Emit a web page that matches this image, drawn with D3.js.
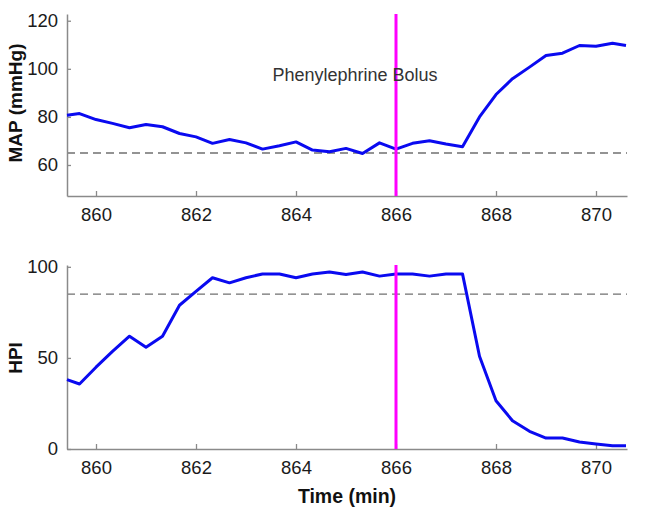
<!DOCTYPE html>
<html>
<head>
<meta charset="utf-8">
<script src="https://cdn.jsdelivr.net/npm/d3@7"></script>
<style>
  html, body { margin: 0; padding: 0; background: #fff; }
  svg { display: block; font-family: "Liberation Sans", Arial, sans-serif; }
</style>
</head>
<body>
<svg id="chart" width="646" height="512"></svg>
<script>
// ---- data ----
const times = [859.42, 859.67, 860.0, 860.33, 860.67, 861.0, 861.33, 861.67, 862.0, 862.33,
               862.67, 863.0, 863.33, 863.67, 864.0, 864.33, 864.67, 865.0, 865.33, 865.67,
               866.0, 866.33, 866.67, 867.0, 867.33, 867.67, 868.0, 868.33, 868.67, 869.0,
               869.33, 869.67, 870.0, 870.33, 870.6];
const mapValues = [80.7, 81.4, 78.9, 77.3, 75.5, 76.8, 75.9, 73.1, 71.7, 69.0,
                   70.6, 69.2, 66.6, 68.0, 69.6, 66.2, 65.5, 66.9, 64.8, 69.2,
                   66.6, 69.0, 70.1, 68.7, 67.6, 80.0, 89.3, 95.9, 100.7, 105.5,
                   106.5, 109.7, 109.4, 110.6, 109.7];
const hpiValues = [38.1, 35.7, 44.9, 53.6, 61.9, 55.8, 61.9, 78.9, 86.5, 94.0,
                   91.2, 94.0, 96.1, 96.1, 94.0, 96.1, 97.2, 95.8, 97.2, 94.9,
                   96.1, 96.1, 94.9, 96.1, 96.1, 50.9, 26.5, 15.5, 9.7, 6.0,
                   6.0, 3.8, 2.7, 1.8, 1.8];
const xTicks = [860, 862, 864, 866, 868, 870];
const mapTicks = [60, 80, 100, 120];
const hpiTicks = [0, 50, 100];
const mapThreshold = 65;
const hpiThreshold = 85;
const bolusTime = 866;
const bolusLabel = "Phenylephrine Bolus";
const xLabel = "Time (min)";
const mapLabel = "MAP (mmHg)";
const hpiLabel = "HPI";

// ---- drawing ----
const svg = d3.select("#chart");
const axisColor = "#8a8a8a";
const x = d3.scaleLinear().domain([859.42, 870.62]).range([67, 627]);

function panel(opts) {
  const { y, values, ticks, threshold, label, labelY } = opts;
  const g = svg.append("g");
  const [y0, y1] = y.range();

  g.append("line")
    .attr("x1", x.range()[0]).attr("x2", x.range()[1])
    .attr("y1", y(threshold)).attr("y2", y(threshold))
    .attr("stroke", "#707070").attr("stroke-width", 1.4)
    .attr("stroke-dasharray", "8,5");

  const xa = g.append("g").attr("transform", `translate(0,${y0})`)
    .call(d3.axisBottom(x).tickValues(xTicks).tickFormat(d3.format("d"))
      .tickSizeInner(-5).tickSizeOuter(0).tickPadding(12));
  const ya = g.append("g").attr("transform", `translate(${x.range()[0]},0)`)
    .call(d3.axisLeft(y).tickValues(ticks).tickFormat(d3.format("d"))
      .tickSizeInner(-4).tickSizeOuter(0).tickPadding(9));
  [xa, ya].forEach(a => {
    a.select(".domain").attr("stroke", axisColor).attr("stroke-width", 1.5);
    a.selectAll(".tick line").attr("stroke", axisColor).attr("stroke-width", 1.3);
    a.selectAll(".tick text").attr("fill", "#1a1a1a").attr("font-size", 18.5)
      .attr("font-family", "Liberation Sans, Arial, sans-serif");
  });

  const line = d3.line().x((d, i) => x(times[i])).y(d => y(d));
  g.append("path").datum(values)
    .attr("d", line)
    .attr("fill", "none").attr("stroke", "#0a0af0")
    .attr("stroke-width", 3).attr("stroke-linejoin", "round");

  g.append("line")
    .attr("x1", x(bolusTime)).attr("x2", x(bolusTime))
    .attr("y1", y1).attr("y2", y0)
    .attr("stroke", "#ff00ff").attr("stroke-width", 3);

  g.append("text")
    .attr("transform", `translate(22,${labelY}) rotate(-90)`)
    .attr("text-anchor", "middle")
    .attr("font-size", 19).attr("font-weight", "bold").attr("fill", "#111")
    .text(label);
  return g;
}

const yMap = d3.scaleLinear().domain([47.1, 122.8]).range([196, 14]);
const yHpi = d3.scaleLinear().domain([0, 101]).range([449, 265]);

panel({ y: yMap, values: mapValues, ticks: mapTicks, threshold: mapThreshold, label: mapLabel, labelY: 103 });
panel({ y: yHpi, values: hpiValues, ticks: hpiTicks, threshold: hpiThreshold, label: hpiLabel, labelY: 358 });

svg.append("text")
  .attr("x", x(865.18)).attr("y", yMap(94.8))
  .attr("text-anchor", "middle")
  .attr("font-size", 18).attr("fill", "#333")
  .text(bolusLabel);

svg.append("text")
  .attr("x", 347).attr("y", 503)
  .attr("text-anchor", "middle")
  .attr("font-size", 19.5).attr("font-weight", "bold").attr("fill", "#111")
  .text(xLabel);
</script>
</body>
</html>
